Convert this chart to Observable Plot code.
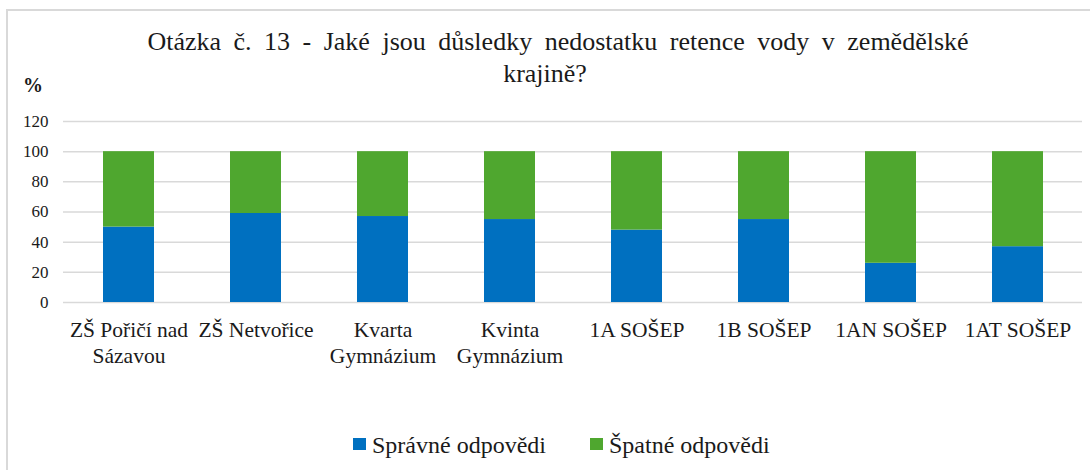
<!DOCTYPE html>
<html>
<head>
<meta charset="utf-8">
<script src="https://cdn.jsdelivr.net/npm/d3@7"></script>
<script src="https://cdn.jsdelivr.net/npm/@observablehq/plot@0.6"></script>
<style>
  html, body { margin: 0; padding: 0; background: #fff; }
  #wrap { position: relative; width: 1090px; height: 470px; overflow: hidden; font-family: "Liberation Serif", "Times New Roman", serif; color: #1a1a1a; }
  #border { position: absolute; left: 6px; top: 9px; width: 1200px; height: 600px; border-left: 2px solid #d9d9d9; border-top: 2px solid #d9d9d9; }
  #title { position: absolute; left: 0; width: 1090px; top: 26px; text-align: center; font-size: 26px; line-height: 32px; white-space: nowrap; }
  #title .l1 { position: relative; left: 13px; word-spacing: 6px; }
  #pct { position: absolute; left: 23px; top: 73px; font-size: 20px; line-height: 24px; font-weight: bold; }
  #chart { position: absolute; left: 0; top: 100px; }
  #legend { position: absolute; top: 431px; left: 0; width: 1090px; height: 30px; font-size: 24px; line-height: 28px; }
  .item { position: absolute; top: 0; white-space: nowrap; }
  .sw { position: absolute; top: 7px; width: 13px; height: 12px; }
  .lt { position: absolute; left: 19px; top: 0; }
</style>
</head>
<body>
<div id="wrap">
  <div id="border"></div>
  <div id="title"><span class="l1">Otázka č. 13 - Jaké jsou důsledky nedostatku retence vody v zemědělské</span><br>krajině?</div>
  <div id="pct">%</div>
  <div id="chart"></div>
  <div id="legend"></div>
</div>
<script>
// ---- data ----
const categories = ["ZŠ Pořičí nad\nSázavou", "ZŠ Netvořice", "Kvarta\nGymnázium", "Kvinta\nGymnázium", "1A SOŠEP", "1B SOŠEP", "1AN SOŠEP", "1AT SOŠEP"];
const seriesNames = ["Správné odpovědi", "Špatné odpovědi"];
const correct = [50, 59, 57, 55, 48, 55, 26, 37];
const wrong   = [50, 41, 43, 45, 52, 45, 74, 63];
const seriesColors = ["#0070C0", "#4FA72F"];
const yTicks = [0, 20, 40, 60, 80, 100, 120];

const rows = [];
categories.forEach((c, i) => {
  rows.push({cat: c, series: seriesNames[0], value: correct[i]});
  rows.push({cat: c, series: seriesNames[1], value: wrong[i]});
});

const serif = "'Liberation Serif', 'Times New Roman', serif";
const chart = Plot.plot({
  width: 1090,
  height: 280,
  marginTop: 21,
  marginBottom: 78,
  marginLeft: 63,
  marginRight: 8,
  style: { fontFamily: serif, color: "#1a1a1a", background: "transparent" },
  x: { domain: categories, paddingInner: 0.6, paddingOuter: 0.3, label: null },
  y: { domain: [0, 120], ticks: yTicks, label: null },
  color: { domain: seriesNames, range: seriesColors },
  marks: [
    Plot.gridY(yTicks, { stroke: "#d9d9d9", strokeOpacity: 1, strokeWidth: 1.5 }),
    Plot.barY(rows, { x: "cat", y: "value", fill: "series", order: seriesNames }),
    Plot.axisY(yTicks, { tickSize: 0, tickPadding: 15, fontSize: 17, fontFamily: serif, label: null }),
    Plot.axisX({ tickSize: 0, tickPadding: 17, fontSize: 21.5, fontFamily: serif, lineHeight: 1.17, label: null })
  ]
});
document.getElementById("chart").appendChild(chart);

// legend (HTML, below the SVG)
const legend = document.getElementById("legend");
const legendX = [353, 590];
seriesNames.forEach((name, i) => {
  const it = document.createElement("div");
  it.className = "item";
  it.style.left = legendX[i] + "px";
  const sw = document.createElement("div");
  sw.className = "sw";
  sw.style.background = seriesColors[i];
  const t = document.createElement("div");
  t.className = "lt";
  t.textContent = name;
  it.appendChild(sw);
  it.appendChild(t);
  legend.appendChild(it);
});
</script>
</body>
</html>
